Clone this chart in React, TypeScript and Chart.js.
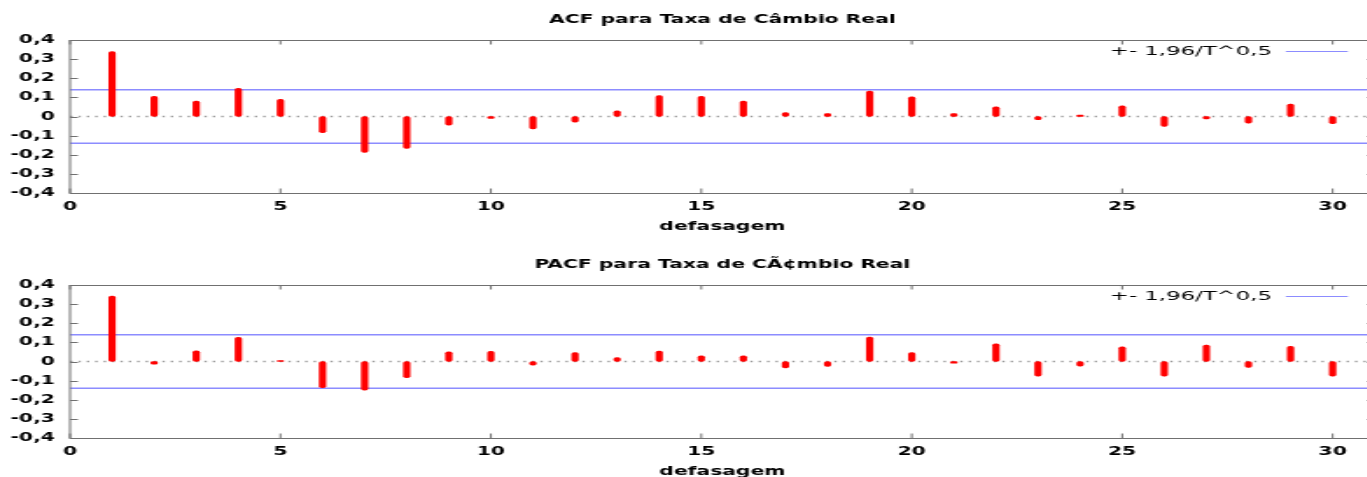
import React, { useEffect, useRef } from "react";
import { Chart, registerables } from "chart.js";

Chart.register(...registerables);

// ---------- data ----------
const lags = [1, 2, 3, 4, 5, 6, 7, 8, 9, 10, 11, 12, 13, 14, 15, 16, 17, 18, 19, 20, 21, 22, 23, 24, 25, 26, 27, 28, 29, 30];
const acfValues = [0.34, 0.105, 0.08, 0.147, 0.09, -0.085, -0.188, -0.167, -0.045, -0.01, -0.065, -0.03, 0.03, 0.11, 0.105, 0.08, 0.02, 0.015, 0.133, 0.103, 0.015, 0.05, -0.017, 0.007, 0.056, -0.052, -0.012, -0.035, 0.065, -0.038];
const pacfValues = [0.342, -0.014, 0.056, 0.126, 0.005, -0.137, -0.15, -0.084, 0.051, 0.053, -0.019, 0.047, 0.02, 0.055, 0.03, 0.03, -0.033, -0.026, 0.128, 0.046, -0.009, 0.093, -0.077, -0.024, 0.077, -0.077, 0.086, -0.031, 0.079, -0.077];
const acfBand = 0.14;
const pacfBand = 0.14;
const xTickValues = [0, 5, 10, 15, 20, 25, 30];
const yTickValues = [-0.4, -0.3, -0.2, -0.1, 0, 0.1, 0.2, 0.3, 0.4];
const yTickLabels = ["-0,4", "-0,3", "-0,2", "-0,1", "0", "0,1", "0,2", "0,3", "0,4"];
const xRange = [0, 31];
const yRange = [-0.4, 0.4];
const acfTitle = "ACF para Taxa de Câmbio Real";
const pacfTitle = "PACF para Taxa de CÃ¢mbio Real";
const xAxisTitle = "defasagem";
const bandLabel = "+- 1,96/T^0,5";

// ---------- styles ----------
const FONT = "'DejaVu Sans', 'Liberation Sans', sans-serif";
const STRETCH = 1.75;
const CW = 787;
const CH = 245;
const BAR_COLOR = "#ff0000";
const BAND_COLOR = "#8c8cff";
const FRAME_COLOR = "#707070";

const gnuFrame = {
  id: "gnuFrame",
  afterDraw(chart: any) {
    const { ctx, chartArea: a, scales } = chart;
    const xs = scales.x;
    const ys = scales.y;
    ctx.save();
    ctx.strokeStyle = FRAME_COLOR;
    ctx.lineWidth = 1;
    ctx.strokeRect(a.left, a.top + 0.5, a.right - a.left, a.bottom - a.top);
    const tl = 4.5;
    ctx.beginPath();
    xs.ticks.forEach((t: any) => {
      const px = xs.getPixelForValue(t.value);
      ctx.moveTo(px, a.bottom);
      ctx.lineTo(px, a.bottom - tl);
      ctx.moveTo(px, a.top);
      ctx.lineTo(px, a.top + tl);
    });
    ys.ticks.forEach((t: any) => {
      const py = Math.round(ys.getPixelForValue(t.value)) + 0.5;
      ctx.moveTo(a.left, py);
      ctx.lineTo(a.left + tl, py);
      ctx.moveTo(a.right, py);
      ctx.lineTo(a.right - tl, py);
    });
    ctx.stroke();

    // key (legend) inside the plot, top right
    const ds = chart.data.datasets.find((d: any) => d.label === bandLabel);
    if (ds) {
      const ly = a.top + 11;
      ctx.font = `13px ${FONT}`;
      ctx.fillStyle = "#000";
      ctx.textAlign = "right";
      ctx.textBaseline = "middle";
      ctx.fillText(ds.label, a.right - 58.8, ly + 0.5);
      ctx.strokeStyle = ds.borderColor;
      ctx.lineWidth = 1.2;
      ctx.beginPath();
      ctx.moveTo(a.right - 50.8, ly + 0.5);
      ctx.lineTo(a.right - 15.4, ly + 0.5);
      ctx.stroke();
    }
    ctx.restore();
  },
};

function makeConfig(title: string, values: number[], band: number): any {
  const bold = { family: FONT, size: 11.6, weight: "bold" as const };
  return {
    type: "bar",
    data: {
      datasets: [
        {
          type: "bar",
          label: "values",
          data: lags.map((l, i) => ({ x: l, y: values[i] })),
          backgroundColor: BAR_COLOR,
          borderWidth: 0,
          barThickness: 3.5,
          borderRadius: 1.75,
          borderSkipped: false,
          order: 0,
        },
        {
          type: "line",
          label: bandLabel,
          data: [{ x: xRange[0], y: band }, { x: xRange[1], y: band }],
          borderColor: BAND_COLOR,
          borderWidth: 1.4,
          pointRadius: 0,
          fill: false,
          order: 1,
        },
        {
          type: "line",
          label: "",
          data: [{ x: xRange[0], y: -band }, { x: xRange[1], y: -band }],
          borderColor: BAND_COLOR,
          borderWidth: 1.4,
          pointRadius: 0,
          fill: false,
          order: 1,
        },
        {
          type: "line",
          label: "zero",
          data: [{ x: xRange[0], y: 0 }, { x: xRange[1], y: 0 }],
          borderColor: "#9a9a9a",
          borderWidth: 1.3,
          borderDash: [1.4, 3.4],
          pointRadius: 0,
          fill: false,
          order: 2,
        },
      ],
    },
    options: {
      animation: false,
      responsive: false,
      devicePixelRatio: 1,
      events: [],
      layout: { padding: { left: 0, right: 1.3, top: 0, bottom: 0 } },
      plugins: {
        legend: { display: false },
        title: { display: false },
        tooltip: { enabled: false },
      },
      scales: {
        x: {
          type: "linear",
          position: "bottom",
          min: xRange[0],
          max: xRange[1],
          offset: false,
          grid: { display: false, drawTicks: false, offset: false },
          border: { display: false },
          afterBuildTicks: (s: any) => {
            s.ticks = xTickValues.map((v) => ({ value: v }));
          },
          ticks: {
            padding: 7,
            color: "#000",
            font: bold,
            maxRotation: 0,
            autoSkip: false,
            callback: (v: any) => String(v),
          },
          title: {
            display: true,
            text: xAxisTitle,
            color: "#000",
            font: bold,
            padding: { top: 0, bottom: 11.3 },
          },
          afterFit: (s: any) => {
            s.height = 52;
          },
        },
        x2: {
          type: "linear",
          position: "top",
          min: xRange[0],
          max: xRange[1],
          offset: false,
          grid: { display: false, drawTicks: false },
          border: { display: false },
          ticks: { display: false },
          title: {
            display: true,
            text: title,
            color: "#000",
            font: bold,
            padding: { top: 13.5, bottom: 0 },
          },
          afterFit: (s: any) => {
            s.height = 40;
          },
        },
        y: {
          type: "linear",
          min: yRange[0],
          max: yRange[1],
          grid: { display: false, drawTicks: false },
          border: { display: false },
          afterBuildTicks: (s: any) => {
            s.ticks = yTickValues.map((v) => ({ value: v }));
          },
          ticks: {
            padding: 8.6,
            color: "#000",
            font: bold,
            autoSkip: false,
            callback: (v: any) => {
              const idx = yTickValues.findIndex((t) => Math.abs(t - v) < 1e-9);
              return idx >= 0 ? yTickLabels[idx] : "";
            },
          },
          afterFit: (s: any) => {
            s.width = 40;
          },
        },
      },
    },
    plugins: [gnuFrame],
  };
}

export default function App() {
  const topRef = useRef<HTMLCanvasElement>(null);
  const botRef = useRef<HTMLCanvasElement>(null);

  useEffect(() => {
    document.body.style.margin = "0";
    const charts: Chart[] = [];
    if (topRef.current) charts.push(new Chart(topRef.current, makeConfig(acfTitle, acfValues, acfBand)));
    if (botRef.current) charts.push(new Chart(botRef.current, makeConfig(pacfTitle, pacfValues, pacfBand)));
    return () => charts.forEach((c) => c.destroy());
  }, []);

  const cssW = `${CW * STRETCH}px`;
  return (
    <div style={{ position: "fixed", left: 0, top: 0, width: 1367, height: 477, overflow: "hidden", background: "#fff" }}>
      <canvas ref={topRef} width={CW} height={CH} style={{ position: "absolute", left: 0, top: 0, width: cssW, height: `${CH}px` }} />
      <canvas ref={botRef} width={CW} height={CH} style={{ position: "absolute", left: 0, top: CH, width: cssW, height: `${CH}px` }} />
    </div>
  );
}
